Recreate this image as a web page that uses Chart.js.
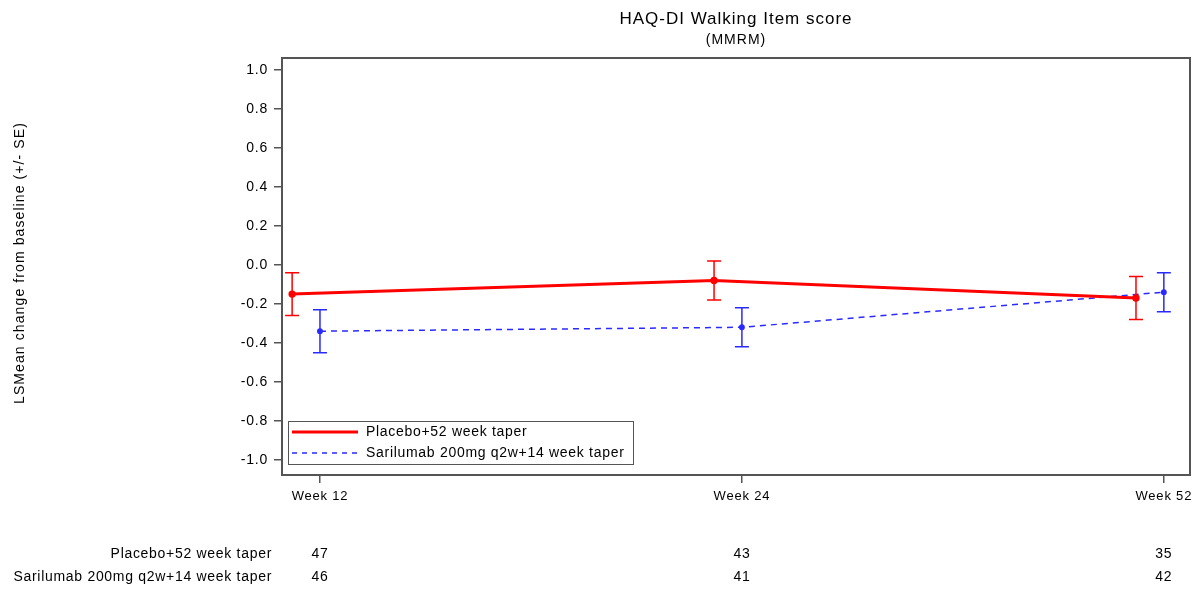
<!DOCTYPE html>
<html>
<head>
<meta charset="utf-8">
<script src="https://cdn.jsdelivr.net/npm/chart.js@4.4.1/dist/chart.umd.min.js"></script>
<style>
  html, body { margin: 0; padding: 0; background: #fff; }
  #wrap { position: relative; width: 1201px; height: 589px; }
</style>
</head>
<body>
<div id="wrap"><canvas id="grafico" width="1201" height="589"></canvas></div>
<script>
// Dados
const semanas = ['Week 12', 'Week 24', 'Week 52'];
const yTicks = [-1.0, -0.8, -0.6, -0.4, -0.2, 0.0, 0.2, 0.4, 0.6, 0.8, 1.0];

const placeboNome = 'Placebo+52 week taper';
const placeboMedia = [-0.15, -0.08, -0.17];
const placeboInf = [-0.26, -0.18, -0.28];
const placeboSup = [-0.04, 0.02, -0.06];
const placeboN = [47, 43, 35];

const sariNome = 'Sarilumab 200mg q2w+14 week taper';
const sariMedia = [-0.34, -0.32, -0.14];
const sariInf = [-0.45, -0.42, -0.24];
const sariSup = [-0.23, -0.22, -0.04];
const sariN = [46, 41, 42];

const FONTE = '"Liberation Sans", Arial, sans-serif';
const VERMELHO = '#ff0000';
const AZUL = '#2a2aff';
const EIXO = '#555555';
const DESLOC_PLACEBO = -0.066; // placebo desenhado um pouco à esquerda

function pontos(medias, desloc) {
    return medias.map((v, i) => ({ x: i + desloc, y: v }));
}

// espaçamento de letras parecido com o SAS (vale também para os ticks)
const espacamento = {
    id: 'espacamento',
    beforeDraw(chart) { chart.ctx.letterSpacing = '0.8px'; }
};

// barras de erro (+/- SE)
const barrasErro = {
    id: 'barrasErro',
    afterDatasetsDraw(chart) {
        const ctx = chart.ctx;
        const xs = chart.scales.x, ys = chart.scales.y;
        chart.data.datasets.forEach(ds => {
            ctx.save();
            ctx.strokeStyle = ds.borderColor;
            ctx.lineWidth = 1.5;
            ds.data.forEach((p, i) => {
                const px = xs.getPixelForValue(p.x);
                const y1 = ys.getPixelForValue(ds.inferior[i]);
                const y2 = ys.getPixelForValue(ds.superior[i]);
                ctx.beginPath();
                ctx.moveTo(px, y1); ctx.lineTo(px, y2);
                ctx.moveTo(px - 7, y1); ctx.lineTo(px + 7, y1);
                ctx.moveTo(px - 7, y2); ctx.lineTo(px + 7, y2);
                ctx.stroke();
            });
            ctx.restore();
        });
    }
};

// título, rótulo do eixo y, legenda e tabela de N
const textos = {
    id: 'textos',
    afterDraw(chart) {
        const ctx = chart.ctx;
        const area = chart.chartArea;
        const xs = chart.scales.x;
        const cx = (area.left + area.right) / 2;
        ctx.save();
        ctx.fillStyle = '#000';
        ctx.textBaseline = 'middle';

        ctx.font = '17px ' + FONTE;
        ctx.letterSpacing = '1px';
        ctx.textAlign = 'center';
        ctx.fillText('HAQ-DI Walking Item score', cx, 19);
        ctx.font = '14px ' + FONTE;
        ctx.fillText('(MMRM)', cx, 40);

        // eixo y
        ctx.save();
        ctx.translate(20, 263);
        ctx.rotate(-Math.PI / 2);
        ctx.font = '14px ' + FONTE;
        ctx.letterSpacing = '1.1px';
        ctx.fillText('LSMean change from baseline (+/- SE)', 0, 0);
        ctx.restore();

        ctx.letterSpacing = '0.7px';
        // legenda dentro da área
        const lx = area.left + 6, ly = area.bottom - 54;
        ctx.fillStyle = '#fff';
        ctx.fillRect(lx, ly, 345, 43);
        ctx.strokeStyle = EIXO;
        ctx.lineWidth = 1;
        ctx.strokeRect(lx + 0.5, ly + 0.5, 345, 43);
        ctx.lineWidth = 3;
        ctx.strokeStyle = VERMELHO;
        ctx.beginPath(); ctx.moveTo(lx + 4, ly + 11); ctx.lineTo(lx + 70, ly + 11); ctx.stroke();
        ctx.lineWidth = 1.5;
        ctx.strokeStyle = AZUL;
        ctx.setLineDash([5, 5]);
        ctx.beginPath(); ctx.moveTo(lx + 4, ly + 32); ctx.lineTo(lx + 70, ly + 32); ctx.stroke();
        ctx.setLineDash([]);
        ctx.fillStyle = '#000';
        ctx.textAlign = 'left';
        ctx.font = '14px ' + FONTE;
        ctx.fillText(placeboNome, lx + 78, ly + 11);
        ctx.fillText(sariNome, lx + 78, ly + 32);

        // tabela de pacientes
        ctx.textAlign = 'right';
        ctx.fillText(placeboNome, area.left - 10, 554);
        ctx.fillText(sariNome, area.left - 10, 577);
        ctx.textAlign = 'center';
        semanas.forEach((s, i) => {
            const px = xs.getPixelForValue(i);
            ctx.fillText(String(placeboN[i]), px, 554);
            ctx.fillText(String(sariN[i]), px, 577);
        });
        ctx.restore();
    }
};

new Chart(document.getElementById('grafico').getContext('2d'), {
    type: 'line',
    data: {
        datasets: [
            {
                label: placeboNome,
                data: pontos(placeboMedia, DESLOC_PLACEBO),
                inferior: placeboInf,
                superior: placeboSup,
                borderColor: VERMELHO,
                backgroundColor: VERMELHO,
                borderWidth: 3,
                pointRadius: 2.2,
                pointBackgroundColor: VERMELHO,
                tension: 0
            },
            {
                label: sariNome,
                data: pontos(sariMedia, 0),
                inferior: sariInf,
                superior: sariSup,
                borderColor: AZUL,
                backgroundColor: AZUL,
                borderWidth: 1.5,
                borderDash: [6, 5],
                pointRadius: 2.2,
                pointBackgroundColor: AZUL,
                tension: 0
            }
        ]
    },
    options: {
        responsive: false,
        animation: false,
        layout: { padding: { top: 58, right: 11, bottom: 0, left: 0 } },
        plugins: {
            legend: { display: false },
            title: { display: false },
            tooltip: { enabled: false }
        },
        scales: {
            x: {
                type: 'linear',
                min: -0.09,
                max: 2.062,
                afterBuildTicks: s => { s.ticks = semanas.map((_, i) => ({ value: i })); },
                afterFit: s => { s.height = 114; },
                grid: { drawOnChartArea: false, tickLength: 8, color: EIXO, lineWidth: 1.5 },
                border: { color: EIXO, width: 2 },
                ticks: {
                    color: '#000',
                    padding: 6,
                    font: { family: FONTE, size: 13 },
                    callback: v => semanas[v] ?? ''
                }
            },
            y: {
                min: -1.077,
                max: 1.06,
                afterBuildTicks: s => { s.ticks = yTicks.map(v => ({ value: v })); },
                afterFit: s => { s.width = 282; },
                grid: { drawOnChartArea: false, tickLength: 8, color: EIXO, lineWidth: 1.5 },
                border: { color: EIXO, width: 2 },
                ticks: {
                    color: '#000',
                    padding: 6,
                    font: { family: FONTE, size: 14 },
                    callback: v => v.toFixed(1)
                }
            },
            y2: {
                position: 'right',
                min: -1.077,
                max: 1.06,
                afterFit: s => { s.width = 0; },
                grid: { display: false },
                border: { color: EIXO, width: 2 },
                ticks: { display: false }
            },
            x2: {
                type: 'linear',
                position: 'top',
                afterFit: s => { s.height = 0; },
                grid: { display: false },
                border: { color: EIXO, width: 2 },
                ticks: { display: false }
            }
        }
    },
    plugins: [espacamento, barrasErro, textos]
});
</script>
</body>
</html>
